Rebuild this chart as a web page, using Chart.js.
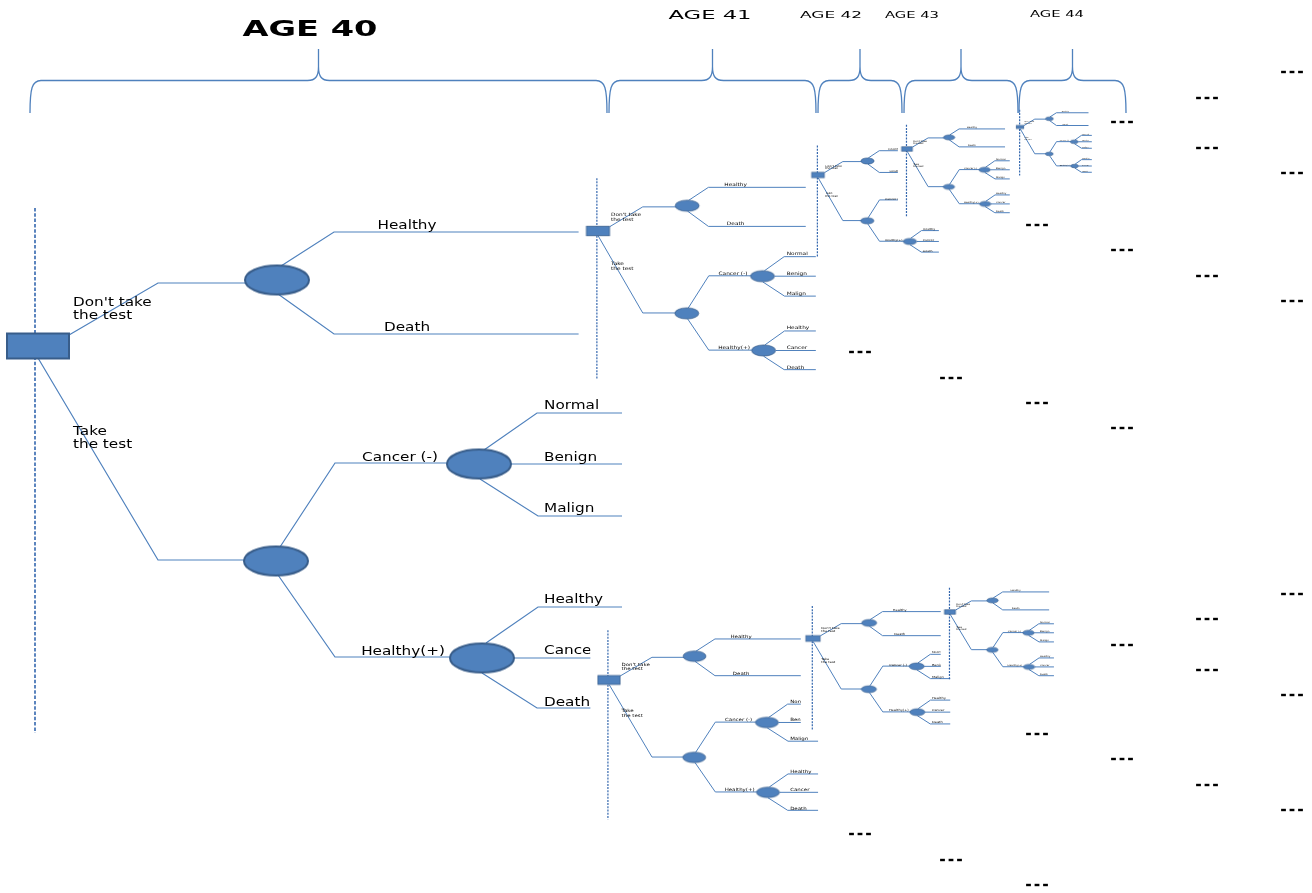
<!DOCTYPE html>
<html>
<head>
<meta charset="utf-8">
<title>Screening decision tree</title>
<script src="https://cdn.jsdelivr.net/npm/chart.js@4.4.0/dist/chart.umd.min.js"></script>
<style>
  html, body { margin: 0; padding: 0; background: #fff; }
  #wrap { width: 1312px; height: 893px; position: relative; }
</style>
</head>
<body>
<div id="wrap"><canvas id="treeChart"></canvas></div>
<script>
// tree labels
var decisionOptions = ["Don't take\nthe test", "Take\nthe test"];
var noTestOutcomes = ['Healthy', 'Death'];
var testResults = ['Cancer (-)', 'Healthy(+)'];
var negativeOutcomes = ['Normal', 'Benign', 'Malign'];
var positiveOutcomes = ['Healthy', 'Cancer', 'Death'];
var ageLabels = ['AGE 40', 'AGE 41', 'AGE 42', 'AGE 43', 'AGE 44'];

// layout: where each copy of the tree goes (age 40 is full size)
var treeCopies = [
    { x: 38,   y: 346,   sx: 1,     sy: 1 },
    { x: 598,  y: 231,   sx: 0.373, sy: 0.383 },
    { x: 818,  y: 175,   sx: 0.207, sy: 0.213 },
    { x: 907,  y: 149,   sx: 0.176, sy: 0.176 },
    { x: 1020, y: 127,   sx: 0.123, sy: 0.125 },
    { x: 609,  y: 680,   sx: 0.358, sy: 0.36 },
    { x: 813,  y: 638.5, sx: 0.235, sy: 0.236 },
    { x: 950,  y: 612,   sx: 0.178, sy: 0.176 }
];

// age brackets [from, to] and header text spots
var braceSpans = [[30, 607], [609, 816], [818, 902], [904, 1018], [1019, 1126]];
var headers = [
    { cx: 310, cy: 30, size: 22, bold: true, w: 135 },
    { cx: 710, cy: 16, size: 12.5, bold: false, w: 83 },
    { cx: 831, cy: 16, size: 9.5, bold: false, w: 62 },
    { cx: 912, cy: 16, size: 9, bold: false, w: 54 },
    { cx: 1057, cy: 15, size: 9, bold: false, w: 54 }
];

// "..." continuation marks
var moreMarks = [
    [1292, 72], [1207, 98], [1122, 122], [1207, 148], [1292, 173],
    [1037, 225], [1122, 250], [1207, 276], [1292, 301],
    [860, 352], [951, 378], [1037, 403], [1122, 428],
    [1292, 594], [1207, 619], [1122, 645], [1207, 670], [1292, 695],
    [1037, 734], [1122, 759], [1207, 785], [1292, 810],
    [860, 834], [951, 860], [1037, 885]
];

// shape of one tree, in full size units relative to the decision square
var sq = [62, 25];
var ell = [64, 29];
var chanceSpots = [[239, -66], [238, 215], [441, 118], [444, 312]];
var edgePaths = [
    [[31, -11], [120, -63], [212, -63]],
    [[0, 12], [120, 214], [212, 214]],
    [[243, -80], [296, -114], [557, -114]],
    [[240, -52], [296, -12], [557, -12]],
    [[242, 201], [297, 117], [420, 117]],
    [[240, 229], [297, 311], [420, 311]],
    [[446, 104], [499, 67], [584, 67]],
    [[473, 118], [584, 118]],
    [[442, 133], [500, 170], [584, 170]],
    [[448, 297], [500, 261], [584, 261]],
    [[476, 312], [584, 312]],
    [[444, 327], [499, 362], [584, 362]]
];
var dashLine = [-3, -138, 387];
var coverBox = [-52, -138, 600, 360];

var textSpots = [
    { lines: decisionOptions[0].split('\n'), x: 35, y: -43, align: 'left' },
    { lines: decisionOptions[1].split('\n'), x: 35, y: 86, align: 'left' },
    { lines: [noTestOutcomes[0]], x: 369, y: -120, align: 'center' },
    { lines: [noTestOutcomes[1]], x: 369, y: -18, align: 'center' },
    { lines: [testResults[0]], x: 362, y: 112, align: 'center' },
    { lines: [testResults[1]], x: 365, y: 306, align: 'center' }
];
[60, 112, 163].forEach(function(y, i) {
    textSpots.push({ lines: [negativeOutcomes[i]], x: 506, y: y, align: 'left' });
});
[254, 305, 357].forEach(function(y, i) {
    textSpots.push({ lines: [positiveOutcomes[i]], x: 506, y: y, align: 'left' });
});

var BLUE = '#4F81BD';
var DARK = '#385D8A';

function nodeImage(round, w, h, bw) {
    var pad = Math.ceil(bw) + 1;
    var c = document.createElement('canvas');
    c.width = Math.round(w + pad * 2);
    c.height = Math.round(h + pad * 2);
    var g = c.getContext('2d');
    g.fillStyle = BLUE;
    g.strokeStyle = DARK;
    g.lineWidth = bw;
    if (round) {
        g.beginPath();
        g.ellipse(c.width / 2, c.height / 2, w / 2, h / 2, 0, 0, Math.PI * 2);
        g.fill();
        g.stroke();
    } else {
        g.fillRect((c.width - w) / 2, (c.height - h) / 2, w, h);
        g.strokeRect((c.width - w) / 2, (c.height - h) / 2, w, h);
    }
    return c;
}

var datasets = [];
var order = 0;
function add(ds) {
    ds.order = order--;
    datasets.push(ds);
}

treeCopies.forEach(function(t, k) {
    function at(p) { return { x: t.x + p[0] * t.sx, y: t.y + p[1] * t.sy }; }
    var full = k === 0;

    // dashed time line (with a white box behind so the copy hides what is under it)
    add({
        showLine: true,
        data: [at([dashLine[0], dashLine[1]]), at([dashLine[0], dashLine[2]])],
        borderColor: '#3467AE',
        borderWidth: full ? 1.6 : 1.2,
        borderDash: full ? [3.5, 1.8] : [2, 1.2],
        pointRadius: 0,
        whiteBox: full ? null : [at([coverBox[0], coverBox[1]]), at([coverBox[2], coverBox[3]])]
    });

    var pts = [];
    edgePaths.forEach(function(path) {
        path.forEach(function(p) { pts.push(at(p)); });
        pts.push({ x: null, y: null });
    });
    add({
        showLine: true,
        data: pts,
        borderColor: BLUE,
        borderWidth: full ? 1.2 : 1,
        pointRadius: 0,
        spanGaps: false
    });

    var nodes = [at([0, 0])];
    var styles = [nodeImage(false, sq[0] * t.sx, sq[1] * t.sy, full ? 2 : Math.max(0.6, 2 * t.sx))];
    chanceSpots.forEach(function(p) {
        nodes.push(at(p));
        styles.push(nodeImage(true, ell[0] * t.sx, ell[1] * t.sy, full ? 2 : Math.max(0.6, 2 * t.sx)));
    });
    add({
        data: nodes,
        pointStyle: styles,
        pointRadius: 5,
        texts: textSpots.map(function(s) {
            return { lines: s.lines, pos: at([s.x, s.y]), step: 13 * t.sy, align: s.align, size: 12 * t.sy };
        })
    });
});

var dashes = [];
moreMarks.forEach(function(m) {
    [-8.5, 0, 8.5].forEach(function(d) { dashes.push({ x: m[0] + d, y: m[1] }); });
});
add({
    data: dashes,
    pointStyle: 'line',
    pointRadius: 2.4,
    pointBorderWidth: 2.4,
    pointBorderColor: '#000',
    pointBackgroundColor: '#000'
});

function stretchedText(ctx, text, x, y, font, align, stretch) {
    ctx.save();
    ctx.translate(x, y);
    ctx.scale(stretch, 1);
    ctx.font = font;
    ctx.textAlign = align;
    ctx.textBaseline = 'middle';
    ctx.fillStyle = '#000';
    ctx.fillText(text, 0, 0);
    ctx.restore();
}

var treePlugin = {
    id: 'treeParts',
    beforeDatasetDraw: function(chart, args) {
        var ds = chart.data.datasets[args.index];
        if (!ds.whiteBox) return;
        var xs = chart.scales.x, ys = chart.scales.y, ctx = chart.ctx;
        var x0 = xs.getPixelForValue(ds.whiteBox[0].x), y0 = ys.getPixelForValue(ds.whiteBox[0].y);
        var x1 = xs.getPixelForValue(ds.whiteBox[1].x), y1 = ys.getPixelForValue(ds.whiteBox[1].y);
        ctx.save();
        ctx.fillStyle = '#fff';
        ctx.fillRect(x0, y0, x1 - x0, y1 - y0);
        ctx.restore();
    },
    afterDatasetDraw: function(chart, args) {
        var ds = chart.data.datasets[args.index];
        if (!ds.texts) return;
        var xs = chart.scales.x, ys = chart.scales.y, ctx = chart.ctx;
        ds.texts.forEach(function(t) {
            t.lines.forEach(function(line, i) {
                stretchedText(ctx, line, xs.getPixelForValue(t.pos.x), ys.getPixelForValue(t.pos.y + i * t.step),
                    t.size + 'px "DejaVu Sans"', t.align, 1.27);
            });
        });
    },
    afterDatasetsDraw: function(chart) {
        var xs = chart.scales.x, ys = chart.scales.y, ctx = chart.ctx;
        var yTip = ys.getPixelForValue(49), yBar = ys.getPixelForValue(80.5), yEnd = ys.getPixelForValue(113);
        ctx.save();
        ctx.strokeStyle = BLUE;
        ctx.lineWidth = 1.3;
        braceSpans.forEach(function(b) {
            var a = xs.getPixelForValue(b[0]), z = xs.getPixelForValue(b[1]), m = (a + z) / 2;
            ctx.beginPath();
            ctx.moveTo(a, yEnd);
            ctx.bezierCurveTo(a, yBar + 8, a + 2, yBar, a + 11, yBar);
            ctx.lineTo(m - 11, yBar);
            ctx.bezierCurveTo(m - 3, yBar, m, yBar - 4, m, yBar - 14);
            ctx.lineTo(m, yTip);
            ctx.moveTo(m, yBar - 14);
            ctx.bezierCurveTo(m, yBar - 4, m + 3, yBar, m + 11, yBar);
            ctx.lineTo(z - 11, yBar);
            ctx.bezierCurveTo(z - 2, yBar, z, yBar + 8, z, yEnd);
            ctx.stroke();
        });
        ctx.restore();
        headers.forEach(function(h, i) {
            var font = (h.bold ? 'bold ' : '') + h.size + 'px "DejaVu Sans"';
            ctx.save();
            ctx.font = font;
            var k = h.w / ctx.measureText(ageLabels[i]).width;
            ctx.restore();
            stretchedText(ctx, ageLabels[i], xs.getPixelForValue(h.cx), ys.getPixelForValue(h.cy), font, 'center', k);
        });
    }
};

var ctx = document.getElementById('treeChart').getContext('2d');
var treeChart = new Chart(ctx, {
    type: 'scatter',
    data: { datasets: datasets },
    options: {
        responsive: true,
        maintainAspectRatio: false,
        animation: false,
        events: [],
        layout: { padding: 0, autoPadding: false },
        scales: {
            x: { type: 'linear', min: 0, max: 1312, display: false },
            y: { type: 'linear', min: 0, max: 893, reverse: true, display: false }
        },
        plugins: {
            legend: { display: false },
            tooltip: { enabled: false }
        }
    },
    plugins: [treePlugin]
});
</script>
</body>
</html>
